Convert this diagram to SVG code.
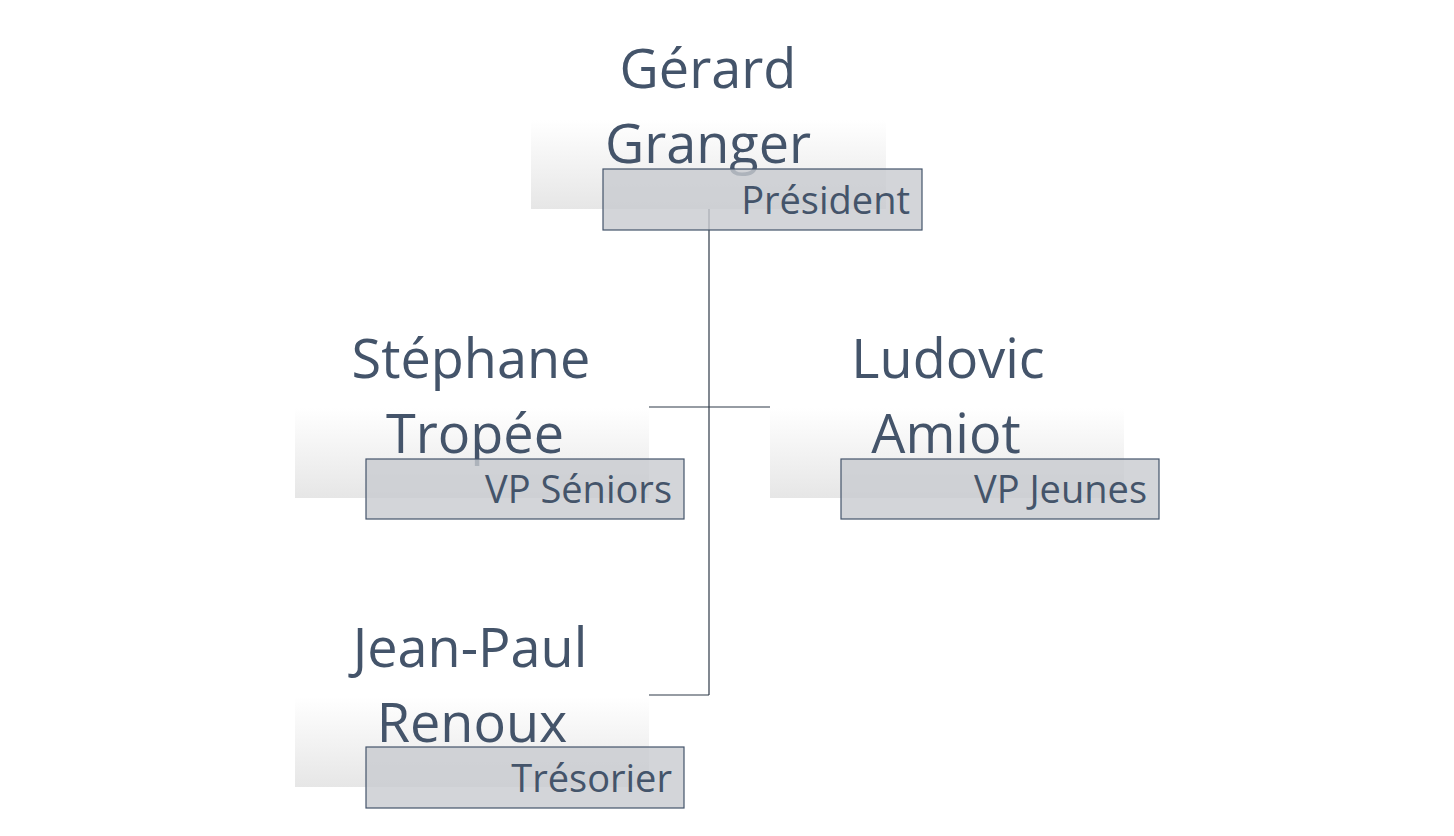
<svg xmlns="http://www.w3.org/2000/svg" width="1454" height="836" viewBox="0 0 1454 836">
<defs>
<linearGradient id="g" x1="0" y1="0" x2="0" y2="1"><stop offset="0" stop-color="#ffffff"/><stop offset="1" stop-color="#e6e6e6"/></linearGradient>
</defs>
<style>
.bg{fill:url(#g)}
.lb{fill:#c8cbcf;fill-opacity:0.8;stroke:#44546a;stroke-width:1.2}
.nm{font-family:"Open Sans","Noto Sans",sans-serif;font-size:54px;fill:#44546a;text-anchor:middle}
.t{font-family:"Open Sans","Noto Sans",sans-serif;font-size:38px;fill:#44546a;text-anchor:end}
.c{stroke:#2f3a48;stroke-width:1.2;fill:none}
</style>
<rect width="1454" height="836" fill="#fff"/>
<g id="connectors">
<path class="c" d="M709,209 V695 M649,407 H770 M649,695 H709"/>
</g>
<g id="n1">
<rect class="bg" x="531" y="120" width="355" height="89"/>
<text class="nm" x="708" y="88">Gérard</text>
<text class="nm" x="708" y="163">Granger</text>
<rect class="lb" x="603" y="169" width="319" height="61"/>
<text class="t" x="910" y="214">Président</text>
</g>
<g id="n2">
<rect class="bg" x="295" y="408" width="354" height="90"/>
<text class="nm" x="471" y="378">Stéphane</text>
<text class="nm" x="475" y="453">Tropée</text>
<rect class="lb" x="366" y="459" width="318" height="60"/>
<text class="t" x="672" y="503">VP Séniors</text>
</g>
<g id="n3">
<rect class="bg" x="770" y="408" width="354" height="90"/>
<text class="nm" x="948" y="378">Ludovic</text>
<text class="nm" x="946" y="453">Amiot</text>
<rect class="lb" x="841" y="459" width="318" height="60"/>
<text class="t" x="1147" y="503">VP Jeunes</text>
</g>
<g id="n4">
<rect class="bg" x="295" y="697" width="354" height="90"/>
<text class="nm" x="470" y="667">Jean-Paul</text>
<text class="nm" x="472" y="742">Renoux</text>
<rect class="lb" x="366" y="747" width="318" height="61"/>
<text class="t" x="672" y="792">Trésorier</text>
</g>
</svg>
